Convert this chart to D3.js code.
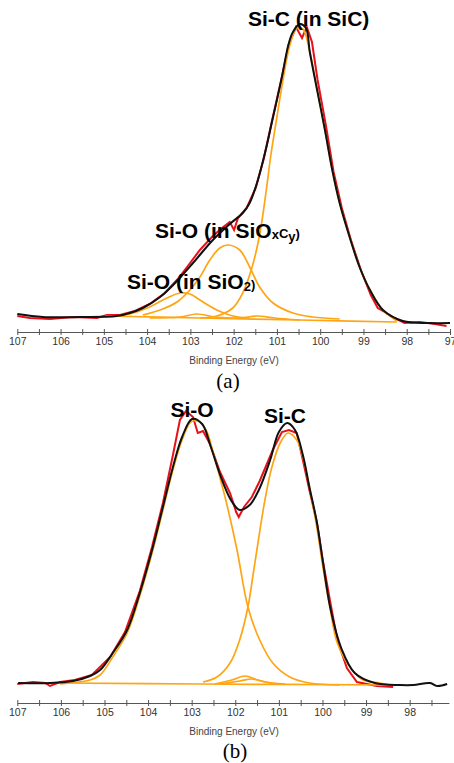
<!DOCTYPE html>
<html lang="en">
<head>
<meta charset="UTF-8">
<script src="https://cdn.jsdelivr.net/npm/d3@7"></script>
<title>Si 2p XPS</title>
<style>
  body { margin: 0; background: #fff; }
  svg { display: block; }
</style>
</head>
<body>
<svg width="454" height="763"></svg>
<script>
// ---- panel (a): [binding energy (eV), counts (a.u.)] ----
var measuredA = [[107.00,14],[106.71,12],[106.24,11],[105.71,13],[105.16,12],[104.93,15],[104.63,15],[104.28,19],
  [103.94,26],[103.59,37],[103.29,51],[103.06,64],[102.78,80],[102.48,94],[102.27,102],[102.09,108],[101.99,100],
  [101.90,112],[101.70,122],[101.49,142],[101.30,172],[101.12,208],[100.91,248],[100.73,285],[100.56,303],
  [100.42,292],[100.31,303],[100.19,288],[100.06,250],[99.87,205],[99.69,158],[99.50,122],[99.29,90],[99.06,60],
  [98.83,35],[98.67,22],[98.51,18],[98.28,12],[98.05,7],[97.70,8],[97.35,6],[97.08,4]];
var envelopeA = [[107.00,16],[106.41,13],[105.55,13],[104.70,14],[104.40,17],[104.10,22],[103.70,33],[103.31,49],
  [102.94,67],[102.48,90],[102.09,106],[101.79,117],[101.63,127],[101.44,150],[101.26,180],[101.12,207],
  [100.89,252],[100.73,286],[100.63,298],[100.47,306],[100.33,302],[100.24,278],[100.08,242],[99.89,200],
  [99.73,162],[99.55,127],[99.32,93],[99.09,63],[98.85,40],[98.55,20],[98.09,9],[97.47,7],[97.00,7]];
var sicA = [[102.78,12],[102.39,14],[102.02,22],[101.79,37],[101.58,62],[101.40,95],[101.23,145],[101.14,175],
  [101.00,213],[100.86,250],[100.70,285],[100.54,302],[100.40,301],[100.24,278],[100.08,242],[99.89,200],
  [99.73,162],[99.55,127],[99.32,93],[99.09,63],[98.85,40],[98.55,20],[98.23,9]];
var sioxcyA = [[104.10,15],[103.70,20],[103.31,28],[103.01,40],[102.78,53],[102.55,70],[102.32,82],[102.13,85],
  [101.86,80],[101.63,63],[101.40,43],[101.09,27],[100.63,17],[100.17,13],[99.55,11]];
var sio2A = [[104.70,14],[104.40,16],[103.94,23],[103.54,32],[103.24,37],[103.01,36],[102.78,30],[102.39,20],
  [102.02,14],[101.63,12]];
var minorA = [[103.94,12],[103.24,13],[102.85,16],[102.43,13],[101.86,12],[101.46,14],[101.05,12],[100.47,10]];
var backgroundA = [[104.97,14],[102.78,12],[100.47,10],[98.23,8]];
var tickLabelsA = [107, 106, 105, 104, 103, 102, 101, 100, 99, 98, 97];

// ---- panel (b) ----
var measuredB = [[107.00,16],[106.64,18],[106.36,17],[106.25,14],[106.02,18],[105.68,20],[105.29,25],[104.87,43],
  [104.53,68],[104.19,109],[103.91,153],[103.66,197],[103.43,245],[103.27,280],[103.13,289],[102.97,283],
  [102.86,267],[102.74,269],[102.58,256],[102.35,228],[102.12,207],[101.98,188],[101.92,183],[101.80,193],
  [101.62,203],[101.44,219],[101.14,250],[100.93,268],[100.77,270],[100.59,267],[100.45,240],[100.30,210],
  [100.13,178],[99.99,139],[99.83,100],[99.66,60],[99.44,32],[99.21,18],[98.75,14],[98.38,13]];
var envelopeB = [[106.98,17],[106.25,17],[105.72,19],[105.33,24],[105.10,30],[104.81,47],[104.48,70],[104.19,107],
  [103.89,153],[103.66,193],[103.43,233],[103.22,263],[102.99,281],[102.76,276],[102.56,253],[102.33,223],
  [102.10,200],[101.90,190],[101.67,195],[101.46,210],[101.20,240],[101.00,268],[100.81,277],[100.63,270],
  [100.45,245],[100.30,213],[100.13,178],[99.99,138],[99.82,92],[99.57,52],[99.26,27],[98.80,17],[98.22,15],
  [97.92,15],[97.53,17],[97.37,14],[97.14,16]];
var sioB = [[106.02,16],[105.33,20],[105.10,25],[104.81,43],[104.48,67],[104.19,104],[103.89,150],[103.66,190],
  [103.43,230],[103.22,260],[103.02,278],[102.86,279],[102.67,270],[102.51,248],[102.35,222],[102.19,195],
  [101.96,150],[101.71,93],[101.44,60],[101.14,37],[100.75,23],[100.30,17],[99.60,15]];
var sicB = [[102.74,18],[102.42,23],[102.12,37],[101.90,60],[101.71,93],[101.60,123],[101.48,157],[101.32,200],
  [101.16,233],[100.97,257],[100.79,267],[100.59,260],[100.45,243],[100.30,213],[100.13,173],[99.99,133],
  [99.83,93],[99.66,57],[99.37,33],[99.07,20],[98.68,17],[98.38,15]];
var minorB1 = [[102.47,16],[102.08,20],[101.78,24],[101.48,20],[101.09,16]];
var minorB2 = [[102.35,16],[101.90,19],[101.62,21],[101.32,18],[100.86,16]];
var backgroundB = [[106.02,17],[102.81,16],[98.38,15]];
var tickLabelsB = [107, 106, 105, 104, 103, 102, 101, 100, 99, 98];

var svg = d3.select("svg");
var sans = "Arial, 'Liberation Sans', sans-serif";

function drawPanel(cfg) {
  var x = d3.scaleLinear().domain(cfg.xDomain).range(cfg.xRange);
  var y = d3.scaleLinear().domain(cfg.yDomain).range(cfg.yRange);
  var smooth = d3.line().x(d => x(d[0])).y(d => y(d[1])).curve(d3.curveCatmullRom.alpha(0.5));
  var raw = d3.line().x(d => x(d[0])).y(d => y(d[1]));
  var g = svg.append("g");

  // axis: half-eV ticks crossing the line, labels on whole eV only
  var axis = d3.axisBottom(x)
    .tickValues(cfg.ticks)
    .tickSizeInner(3).tickSizeOuter(0).tickPadding(3)
    .tickFormat(d => cfg.tickLabels.indexOf(d) >= 0 ? d : "");
  var ax = g.append("g").attr("transform", "translate(0," + cfg.axisY + ")").call(axis);
  ax.select(".domain").attr("stroke", "#555");
  ax.selectAll(".tick line").attr("y1", -3).attr("y2", 3).attr("stroke", "#555");
  ax.selectAll(".tick text").attr("fill", "#333").style("font-family", sans).style("font-size", "10.5px");

  g.append("text")
    .attr("x", 234).attr("y", cfg.axisY + 32)
    .attr("text-anchor", "middle")
    .style("font-family", sans).style("font-size", "10px").attr("fill", "#444")
    .text("Binding Energy (eV)");

  // curves
  g.append("path").attr("d", raw(cfg.measured)).attr("fill", "none")
    .attr("stroke", "#e8101a").attr("stroke-width", 2);
  cfg.components.forEach(function (c) {
    g.append("path").attr("d", smooth(c)).attr("fill", "none")
      .attr("stroke", "#ffa514").attr("stroke-width", 1.7);
  });
  g.append("path").attr("d", smooth(cfg.envelope)).attr("fill", "none")
    .attr("stroke", "#111").attr("stroke-width", 2);

  // peak names
  cfg.names.forEach(function (n) {
    var t = g.append("text").attr("x", n.x).attr("y", n.y)
      .attr("text-anchor", n.anchor || "start")
      .style("font-family", sans).style("font-size", "21px").style("font-weight", "bold");
    n.parts.forEach(function (p) {
      var s = t.append("tspan").text(p[0]);
      if (p[1]) s.style("font-size", "13px").attr("dy", p[1]);
    });
  });

  g.append("text")
    .attr("x", cfg.caption[0]).attr("y", cfg.caption[1])
    .attr("text-anchor", "middle")
    .style("font-family", "'Times New Roman', 'Liberation Serif', serif").style("font-size", "21px")
    .text(cfg.caption[2]);
}

drawPanel({
  xDomain: [107, 97], xRange: [17.3, 450],
  yDomain: [0, 310], yRange: [330, 20],
  axisY: 332,
  ticks: d3.range(97, 107.01, 0.5), tickLabels: tickLabelsA,
  measured: measuredA, envelope: envelopeA,
  components: [backgroundA, minorA, sio2A, sioxcyA, sicA],
  names: [
    { x: 248, y: 26, parts: [["Si-C (in SiC)"]] },
    { x: 155, y: 238, parts: [["Si-O (in SiO"], ["x", 1], ["C", -1], ["y", 3], [")", -3]] },
    { x: 127, y: 289, parts: [["Si-O (in SiO"], ["2", 2], [")", -2]] }
  ],
  caption: [228, 388, "(a)"]
});

drawPanel({
  xDomain: [107, 97.1], xRange: [17.3, 448.9],
  yDomain: [0, 290], yRange: [700, 410],
  axisY: 703,
  ticks: d3.range(97.5, 107.01, 0.5), tickLabels: tickLabelsB,
  measured: measuredB, envelope: envelopeB,
  components: [backgroundB, minorB1, minorB2, sioB, sicB],
  names: [
    { x: 192, y: 417, anchor: "middle", parts: [["Si-O"]] },
    { x: 285, y: 423, anchor: "middle", parts: [["Si-C"]] }
  ],
  caption: [235, 758, "(b)"]
});
</script>
</body>
</html>
